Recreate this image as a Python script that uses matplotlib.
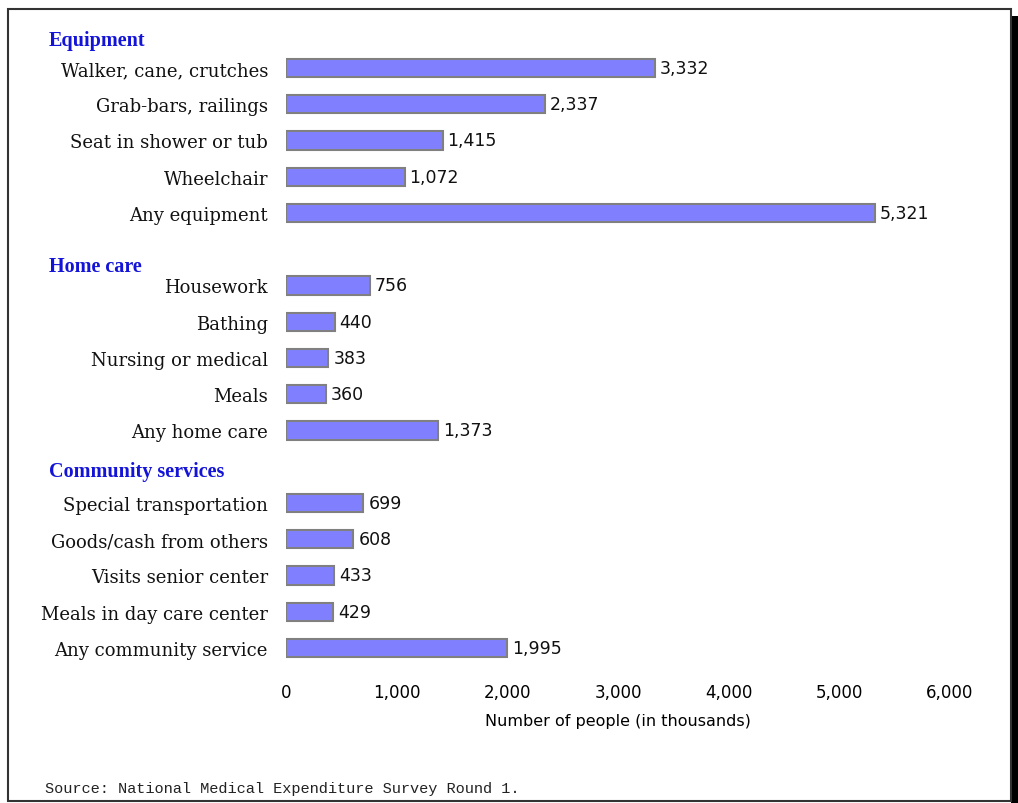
import matplotlib.pyplot as plt
from matplotlib.patches import Rectangle
from matplotlib.ticker import FuncFormatter

# data (thousands of people)
groups = ["Equipment", "Home care", "Community services"]
equip_labels = ["Walker, cane, crutches", "Grab-bars, railings", "Seat in shower or tub",
                "Wheelchair", "Any equipment"]
equip_values = [3332, 2337, 1415, 1072, 5321]
home_labels = ["Housework", "Bathing", "Nursing or medical", "Meals", "Any home care"]
home_values = [756, 440, 383, 360, 1373]
comm_labels = ["Special transportation", "Goods/cash from others", "Visits senior center",
               "Meals in day care center", "Any community service"]
comm_values = [699, 608, 433, 429, 1995]
x_ticks = [0, 1000, 2000, 3000, 4000, 5000, 6000]

W, H = 1018, 804
fig = plt.figure(figsize=(W / 100, H / 100), dpi=100)

# axes placed in pixel terms
top_px, bot_px = 30, 670
left_px, right_px = 286, 950
ax = fig.add_axes([left_px / W, 1 - bot_px / H, (right_px - left_px) / W, (bot_px - top_px) / H])

row0, step = 69, 36.25
sections = [(equip_labels, equip_values), (home_labels, home_values), (comm_labels, comm_values)]
positions, labels, values = [], [], []
for i, (labs, vals) in enumerate(sections):
    for j, (l, v) in enumerate(zip(labs, vals)):
        positions.append(i * 6 + j)
        labels.append(l)
        values.append(v)

ax.barh(positions, values, height=0.5, color="#8080ff", edgecolor="#808080", linewidth=1.5)
for p, v in zip(positions, values):
    ax.text(v + 45, p, f"{v:,}", va="center", ha="left", fontsize=12.5,
            family="DejaVu Sans", color="#111111")

ax.set_xlim(0, 6000)
ax.set_ylim((bot_px - row0) / step, (top_px - row0) / step)
ax.set_yticks(positions)
ax.set_yticklabels(labels, family="DejaVu Serif", fontsize=13, color="#111111")
ax.set_xticks(x_ticks)
ax.xaxis.set_major_formatter(FuncFormatter(lambda x, _: f"{int(x):,}"))
for t in ax.get_xticklabels():
    t.set_family("DejaVu Sans")
    t.set_fontsize(12)
ax.tick_params(axis="y", length=0, pad=13)
ax.tick_params(axis="x", length=0, pad=10)
ax.set_xlabel("Number of people (in thousands)", family="DejaVu Sans", fontsize=11.5, labelpad=9)
for s in ax.spines.values():
    s.set_visible(False)

# group headings
head_y = [41, 267, 472]
for g, y in zip(groups, head_y):
    fig.text(49 / W, 1 - y / H, g, ha="left", va="center", family="Liberation Serif",
             fontsize=14.5, fontweight="bold", color="#1414d8")

fig.text(45 / W, 1 - 789 / H, "Source: National Medical Expenditure Survey Round 1.",
         ha="left", va="center", family="Liberation Mono", fontsize=11, color="#222222")

# frame with shadow on the right
fig.patches.append(Rectangle((1011 / W, 0), 7 / W, 1 - 17 / H, transform=fig.transFigure,
                             facecolor="black", edgecolor="none"))
fig.patches.append(Rectangle((8 / W, 2 / H), 1003 / W, 1 - 12 / H, transform=fig.transFigure,
                             facecolor="none", edgecolor="#333333", linewidth=1.5))

fig.savefig("out.png", dpi=100)
